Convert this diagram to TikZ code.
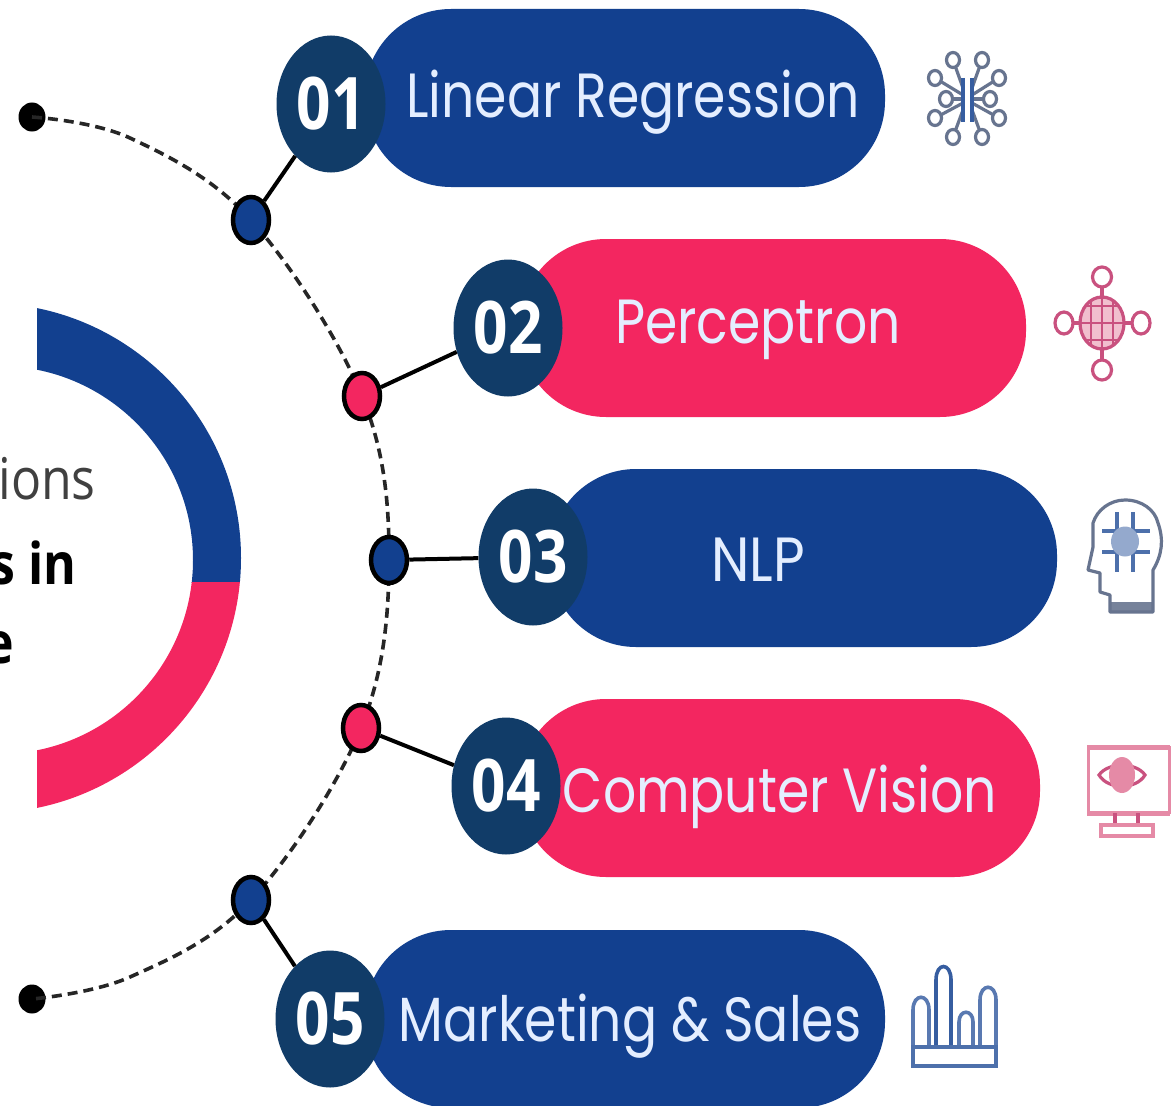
\documentclass[tikz,border=0pt]{standalone}
\usepackage{fontspec}
\usepackage{graphicx}
\setmainfont{Poppins}
\newfontfamily\numfont{Open Sans}[BoldFont={Open Sans Bold}]
\newfontfamily\sidefont{Open Sans}[BoldFont={Open Sans Bold}]
\usetikzlibrary{shapes.geometric}
\definecolor{navy}{HTML}{12408F}
\definecolor{rosered}{HTML}{F32660}
\definecolor{disc}{HTML}{113C68}
\definecolor{labeltext}{HTML}{E4EEFF}
\definecolor{iconblue}{HTML}{67748F}
\definecolor{iconpink}{HTML}{C9517F}
\definecolor{iconpale}{HTML}{E58AA6}
\newcommand{\pilltext}[1]{\scalebox{1}[1.2]{#1}}
\newcommand{\numtext}[1]{\scalebox{1.04}[1.25]{\numfont\bfseries #1}}
\tikzset{
  pill/.style={rectangle,rounded corners=86pt,inner sep=0pt,minimum height=178pt},
  bluepill/.style={pill,fill=navy},
  redpill/.style={pill,fill=rosered},
  numdisc/.style={ellipse,fill=disc,inner sep=0pt,minimum width=109pt,minimum height=137pt,text=white,font=\fontsize{58}{60}\selectfont},
  pilllabel/.style={inner sep=0pt,text=labeltext,font=\fontsize{52}{56}\selectfont},
  jointblue/.style={ellipse,draw=black,line width=4.5pt,fill=navy,inner sep=0pt,minimum width=36pt,minimum height=46pt},
  jointred/.style={ellipse,draw=black,line width=4.5pt,fill=rosered,inner sep=0pt,minimum width=36pt,minimum height=46pt},
  endpoint/.style={ellipse,fill=black,inner sep=0pt,minimum width=27pt,minimum height=29pt},
  arcline/.style={draw=black!85,line width=3.6pt,dash pattern=on 10pt off 6pt},
  link/.style={draw=black,line width=4pt},
  sidetext/.style={inner sep=0pt,anchor=east,text=black!75,font=\sidefont\fontsize{50}{54}\selectfont},
  iconb/.style={draw=iconblue,line width=3.2pt},
  iconp/.style={draw=iconpink,line width=3.2pt},
  iconq/.style={draw=iconpale,line width=3pt}
}
\begin{document}
\begin{tikzpicture}[x=1pt,y=-1pt]
\useasboundingbox (0,0) rectangle (1174,1105);
\clip (0,0) rectangle (1174,1105);
\fill[white] (0,0) rectangle (1174,1105);
% ring
\begin{scope}
\clip (37,290) rectangle (260,582);
\fill[navy,even odd rule] (-14,558) circle (255) (-1,560) circle (194);
\end{scope}
\begin{scope}
\clip (37,582) rectangle (260,820);
\fill[rosered,even odd rule] (-14,558) circle (255) (-1,560) circle (194);
\end{scope}
\node[sidetext] (t1) at (96,479) {\scalebox{1}[1.15]{ions}};
\node[sidetext,text=black] (t2) at (77,563) {\scalebox{1}[1.15]{\bfseries s in}};
\node[sidetext,text=black] (t3) at (14,648) {\scalebox{1}[1.15]{\bfseries e}};
% arc anchors
\coordinate (a1) at (130,138);
\coordinate (a2) at (130,977);
\node[endpoint] (e1) at (32,117) {};
\node[endpoint] (e2) at (32,999) {};
\coordinate (j1) at (251,220);
\coordinate (j2) at (362,396);
\coordinate (j3) at (389,560);
\coordinate (j4) at (361,728);
\coordinate (j5) at (251,900);
\draw[arcline] plot[smooth,tension=0.6] coordinates {(e1.center) (a1) (j1) (j2) (j3) (j4) (j5) (a2) (e2.center)};
% pills
\node[bluepill,minimum width=520pt] (p1) at (625,98) {};
\node[redpill,minimum width=506pt] (p2) at (773,328) {};
\node[bluepill,minimum width=507pt] (p3) at (803.5,558) {};
\node[redpill,minimum width=520pt] (p4) at (780,788) {};
\node[bluepill,minimum width=520pt] (p5) at (625,1019) {};
% discs
\node[numdisc] (n1) at (331,104) {\numtext{01}};
\node[numdisc] (n2) at (508,328) {\numtext{02}};
\node[numdisc] (n3) at (533,557) {\numtext{03}};
\node[numdisc] (n4) at (506,786) {\numtext{04}};
\node[numdisc] (n5) at (330,1019) {\numtext{05}};
% joints
\node[jointblue] (d1) at (j1) {};
\node[jointred] (d2) at (j2) {};
\node[jointblue] (d3) at (j3) {};
\node[jointred] (d4) at (j4) {};
\node[jointblue] (d5) at (j5) {};
\draw[link] (d1) -- (n1);
\draw[link] (d2) -- (n2);
\draw[link] (d3) -- (n3);
\draw[link] (d4) -- (n4);
\draw[link] (d5) -- (n5);
% labels
\node[pilllabel] (l1) at (633,102) {\pilltext{Linear Regression}};
\node[pilllabel] (l2) at (758,330) {\pilltext{Perceptron}};
\node[pilllabel] (l3) at (758,560) {\scalebox{1.05}[1.2]{NLP}};
\node[pilllabel] (l4) at (780,797) {\pilltext{Computer Vision}};
\node[pilllabel] (l5) at (630,1026) {\pilltext{Marketing \& Sales}};
% icon 1
\foreach \x/\y/\sx/\sy in {953/60/963/88,982/60/972/88,935/78/963/95,999/78/972/95,946/99/963/99,990/99/972/99,935/118/963/103,999/118/972/103,953/137/963/110,982/137/972/110}{
  \draw[iconb] (\x,\y) -- (\sx,\sy);
  \draw[iconb,fill=white] (\x,\y) ellipse (6.5 and 7.5);
}
\draw[draw=navy!85,line width=3.6pt] (963,78) -- (963,122) (972,78) -- (972,122);
% icon 2
\draw[iconp] (1102,287) -- (1102,360) (1074,323) -- (1131,323);
\fill[iconpale!55] (1102,323) ellipse (22 and 26);
\begin{scope}
\clip (1102,323) ellipse (22 and 26);
\draw[iconp,line width=2.8pt] (1080,306) -- (1124,306) (1080,323) -- (1124,323) (1080,340) -- (1124,340) (1091,296) -- (1091,350) (1102,296) -- (1102,350) (1113,296) -- (1113,350);
\end{scope}
\draw[iconp] (1102,323) ellipse (22 and 26);
\draw[iconp,fill=white] (1102,277) ellipse (9.5 and 10);
\draw[iconp,fill=white] (1102,370) ellipse (9.5 and 10);
\draw[iconp,fill=white] (1064,323) ellipse (9 and 11);
\draw[iconp,fill=white] (1141,323) ellipse (9 and 11);
% icon 3
\fill[iconblue!90] (1110,602) rectangle (1153,612);
\draw[iconb,line join=round] (1110,612) -- (1110,595) -- (1100,592) -- (1100,573) -- (1088,570) -- (1093,547) -- (1093,523) .. controls (1097,510) and (1110,500) .. (1125,500) .. controls (1142,500) and (1155,510) .. (1158,523) .. controls (1164,540) and (1162,555) .. (1153,570) -- (1153,612) -- cycle;
\draw[draw=navy!75,line width=4pt] (1117,512) -- (1117,572) (1133,512) -- (1133,572)
  (1102,531) -- (1150,531) (1102,552) -- (1150,552);
\fill[navy!45] (1125,541.5) ellipse (14 and 15);
% icon 4
\draw[iconq] (1088,747) rectangle (1169,812);
\draw[iconq,line width=5pt] (1087,747) -- (1170,747) (1087,813) -- (1170,813);
\draw[iconp,fill=white] (1099,775) .. controls (1108,762) and (1136,762) .. (1145,775) .. controls (1136,790) and (1108,790) .. (1099,775) -- cycle;
\fill[iconpale] (1122,775) ellipse (13 and 18);
\draw[iconp] (1115,813) -- (1115,826) (1138,813) -- (1138,826);
\draw[iconq,line width=3.5pt] (1101,825) rectangle (1153,836);
% icon 5
\draw[draw=navy!70,line width=3.6pt] (913,1045) -- (913,1010) .. controls (913,993) and (929,993) .. (929,1010) -- (929,1045);
\draw[draw=navy!85,line width=3.6pt] (936,1045) -- (936,980) .. controls (936,962) and (951,962) .. (951,980) -- (951,1045);
\draw[draw=navy!70,line width=3.6pt] (959,1045) -- (959,1022) .. controls (959,1009) and (973,1009) .. (973,1022) -- (973,1045);
\draw[draw=navy!70,line width=3.6pt] (980,1045) -- (980,1000) .. controls (980,983) and (996,983) .. (996,1000) -- (996,1045);
\draw[draw=navy!75,line width=4.5pt] (913,1047) rectangle (996,1066);
\end{tikzpicture}
\end{document}
